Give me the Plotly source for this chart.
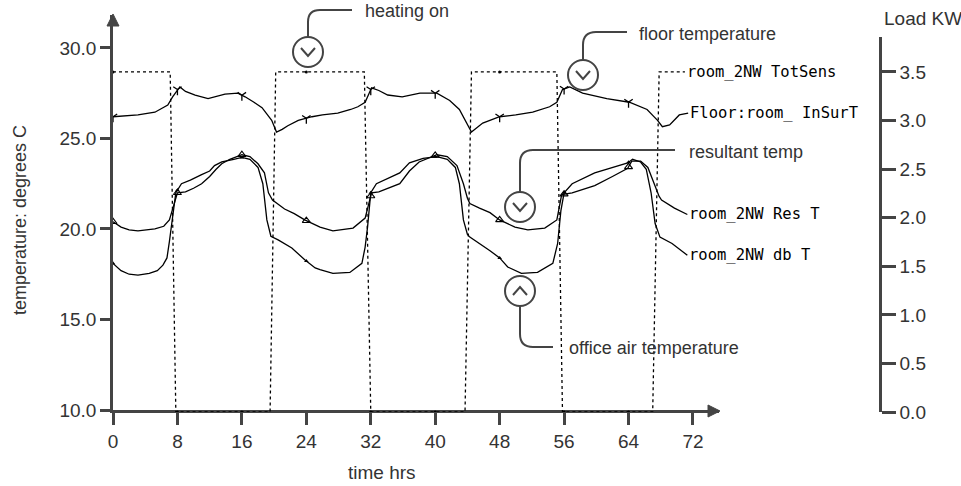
import numpy as np
import plotly.graph_objects as go

# ---------------- data ----------------
floor_h = [0, 1.5, 3.1, 5.2, 6.8, 7.4, 8.0, 8.3, 9.0, 10.2, 11.8, 13.0, 13.9, 15.5, 16.4, 17.5, 18.5,
           19.7, 20.3, 21.0, 21.7, 23.0, 24.7, 26.0, 27.9, 29.5, 30.4, 31.3, 32.1, 33.0, 34.1, 35.9,
           38.1, 40.2, 41.8, 43.0, 43.9, 44.5, 45.9, 48.0, 50.0, 52.1, 54.2, 55.1, 55.8, 56.7, 58.3,
           61.3, 64.1, 66.3, 67.6, 68.2, 69.1, 70.3, 71.4]
floor_t = [26.2, 26.25, 26.3, 26.45, 26.85, 27.3, 27.7, 27.85, 27.6, 27.4, 27.2, 27.35, 27.45, 27.5, 27.3,
           27.0, 26.7, 26.0, 25.35, 25.5, 25.7, 26.0, 26.2, 26.3, 26.4, 26.6, 26.75, 27.0, 27.8, 27.65,
           27.4, 27.3, 27.5, 27.5, 27.1, 26.6, 25.9, 25.35, 25.85, 26.2, 26.3, 26.45, 26.75, 27.0, 27.7,
           27.85, 27.5, 27.2, 27.0, 26.6, 26.0, 25.65, 25.75, 26.3, 26.4]

res_h = [0, 1, 2, 3.1, 5.2, 6.3, 7.0, 7.5, 8.0, 9.0, 10.0, 11.0, 12.0, 12.8, 13.5, 14.5, 16.0, 17.0, 18.0,
         18.8, 19.3, 19.8, 20.1, 21.3, 22.5, 23.8, 25.7, 27.3, 29.8, 31.3, 31.7, 32.1, 33.0, 35.6, 36.8,
         38.0, 40.2, 41.5, 42.7, 43.5, 44.0, 44.3, 45.5, 46.8, 48.0, 49.9, 51.5, 53.6, 55.1, 55.7, 57.0,
         59.8, 62.0, 63.9, 64.4, 65.5, 66.4, 67.2, 67.8, 68.1, 69.7, 71.3]
res_t = [20.4, 20.1, 19.95, 19.9, 20.0, 20.15, 20.5, 21.2, 22.0, 22.05, 22.25, 22.5, 22.9, 23.3, 23.6,
         23.85, 24.1, 24.0, 23.6, 23.1, 22.0, 21.6, 21.5, 21.1, 20.85, 20.5, 20.1, 19.9, 20.05, 20.6,
         21.3, 22.0, 22.05, 22.5, 23.2, 23.7, 24.1, 24.0, 23.5, 22.5, 21.7, 21.4, 21.15, 20.9, 20.5,
         20.1, 19.95, 20.05, 20.5, 21.9, 22.0, 22.4, 22.9, 23.35, 23.75, 23.75, 23.4, 22.5, 21.8, 21.6,
         21.15, 20.8]

db_h = [0, 1, 2, 3.1, 4.5, 5.5, 6.2, 6.7, 7.0, 7.4, 7.8, 8.5, 9.6, 11.0, 12.0, 12.6, 13.5, 15.0, 16.0,
        17.0, 18.0, 18.6, 19.1, 19.6, 20.5, 22.2, 23.8, 25.1, 25.7, 27.3, 29.4, 30.9, 31.3, 31.6, 32.0,
        32.7, 35.6, 36.8, 38.5, 40.2, 41.5, 42.5, 43.0, 43.5, 44.0, 44.3, 45.5, 46.8, 48.0, 49.0, 50.7,
        52.7, 54.6, 55.2, 55.6, 56.0, 57.0, 59.8, 63.9, 64.5, 65.5, 66.2, 66.8, 67.3, 67.9, 69.4, 71.3]
db_t = [18.1, 17.7, 17.5, 17.45, 17.55, 17.7, 18.0, 18.4, 19.3, 20.8, 22.0, 22.5, 22.7, 23.0, 23.2, 23.5,
        23.7, 23.85, 23.95, 23.85, 23.4, 22.5, 20.5, 19.6, 19.4, 18.95, 18.3, 17.85, 17.75, 17.55, 17.6,
        18.1, 19.0, 20.1, 22.0, 22.5, 23.1, 23.65, 23.9, 24.0, 23.85, 23.4, 22.5, 20.5, 19.7, 19.55,
        19.2, 18.8, 18.4, 17.9, 17.55, 17.6, 18.1, 19.2, 21.0, 22.0, 22.5, 23.1, 23.65, 23.85, 23.7,
        23.3, 22.0, 20.3, 19.55, 19.2, 18.55]

load_h = [0, 7.1, 7.8, 19.5, 20.2, 31.2, 32.0, 43.7, 44.5, 55.1, 55.8, 67.0, 67.8, 71.0]
load_kw = [3.5, 3.5, 0, 0, 3.5, 3.5, 0, 0, 3.5, 3.5, 0, 0, 3.5, 3.5]

x_ticks = [0, 8, 16, 24, 32, 40, 48, 56, 64, 72]
y_ticks = [10, 15, 20, 25, 30]
y2_ticks = [0, 0.5, 1.0, 1.5, 2.0, 2.5, 3.0, 3.5]
marker_hours = [0, 8, 16, 24, 32, 40, 48, 56, 64]

labels = {"load": "room_2NW TotSens", "floor": "Floor:room_ InSurT",
          "res": "room_2NW Res T", "db": "room_2NW db T"}

# ---------------- layout helpers (pixel -> paper) ----------------
W, H = 961, 486
L, R, T, B = 113, 895, 15, 412


def px(x):
    return (x - L) / (R - L)


def py(y):
    return (B - y) / (B - T)


def pt(x, y):
    return f"{px(x):.5f},{py(y):.5f}"


AX = "#444444"
TXT = "#333333"
SANS = "Liberation Sans, Arial, sans-serif"
MONO = "DejaVu Sans Mono, monospace"

fig = go.Figure()

line_style = dict(color="black", width=1.3)
fig.add_trace(go.Scatter(x=load_h, y=load_kw, mode="lines", yaxis="y2",
                         line=dict(color="black", width=1.3, dash="3px,3px")))
fig.add_trace(go.Scatter(x=floor_h, y=floor_t, mode="lines", line=line_style))
fig.add_trace(go.Scatter(x=res_h, y=res_t, mode="lines", line=line_style))
fig.add_trace(go.Scatter(x=db_h, y=db_t, mode="lines", line=line_style))

# sparse markers on the series
fig.add_trace(go.Scatter(x=marker_hours, y=np.interp(marker_hours, floor_h, floor_t), mode="markers",
                         marker=dict(symbol="y-down", size=7, color="black",
                                     line=dict(width=1.3, color="black"))))
fig.add_trace(go.Scatter(x=marker_hours, y=np.interp(marker_hours, res_h, res_t), mode="markers",
                         marker=dict(symbol="triangle-up-open", size=7, color="black",
                                     line=dict(width=1.1, color="black"))))
fig.add_trace(go.Scatter(x=marker_hours, y=np.interp(marker_hours, db_h, db_t), mode="markers",
                         marker=dict(symbol="triangle-up", size=4, color="black")))
fig.add_trace(go.Scatter(x=marker_hours, y=np.interp(marker_hours, load_h, load_kw), mode="markers",
                         yaxis="y2", marker=dict(symbol="circle", size=3, color="black")))

shapes = []
# axis arrowheads
shapes.append(dict(type="path", xref="paper", yref="paper",
                   path=f"M {pt(113, 14)} L {pt(107, 26)} L {pt(119, 26)} Z",
                   fillcolor=AX, line=dict(color=AX, width=1)))
shapes.append(dict(type="path", xref="paper", yref="paper",
                   path=f"M {pt(720, 411)} L {pt(708, 405)} L {pt(708, 417)} Z",
                   fillcolor=AX, line=dict(color=AX, width=1)))


def callout(cx, cy, up, leader):
    r = 15
    shapes.append(dict(type="circle", xref="paper", yref="paper",
                       x0=px(cx - r), x1=px(cx + r), y0=py(cy + r), y1=py(cy - r),
                       line=dict(color=AX, width=2)))
    s = 1 if up else -1
    shapes.append(dict(type="path", xref="paper", yref="paper",
                       path=f"M {pt(cx - 7, cy + 4 * s)} L {pt(cx, cy - 4 * s)} L {pt(cx + 7, cy + 4 * s)}",
                       line=dict(color=AX, width=2)))
    shapes.append(dict(type="path", xref="paper", yref="paper", path=leader,
                       line=dict(color=AX, width=2)))


callout(308, 52, False, f"M {pt(308, 37)} L {pt(308, 22)} Q {pt(308, 10)} {pt(320, 10)} L {pt(352, 10)}")
callout(583, 75, False, f"M {pt(583, 60)} L {pt(583, 45)} Q {pt(583, 32)} {pt(596, 32)} L {pt(627, 32)}")
callout(520, 207, False, f"M {pt(520, 192)} L {pt(520, 163)} Q {pt(520, 150)} {pt(533, 150)} L {pt(675, 150)}")
callout(520, 291, True, f"M {pt(520, 306)} L {pt(520, 334)} Q {pt(520, 347)} {pt(533, 347)} L {pt(553, 347)}")

ann = []


def text(x, y, s, size=18, anchor="left", angle=0, font=SANS, color=TXT):
    ann.append(dict(xref="paper", yref="paper", x=px(x), y=py(y), text=s, showarrow=False,
                    xanchor=anchor, yanchor="middle", textangle=angle,
                    font=dict(family=font, size=size, color=color)))


text(363, 11, "heating on")
text(637, 34, "floor temperature")
text(687, 152, "resultant temp")
text(567, 348, "office air temperature")
text(20, 220, "temperature: degrees C", angle=-90, anchor="center")
text(382, 472, "time hrs", size=19, anchor="center")
text(882, 18, "Load KW", size=19)

# curve end labels
for key, hx, hy, yr in [("load", load_h, load_kw, "y2"), ("floor", floor_h, floor_t, "y"),
                        ("res", res_h, res_t, "y"), ("db", db_h, db_t, "y")]:
    ann.append(dict(xref="x", yref=yr, x=hx[-1], y=hy[-1], text=labels[key], showarrow=False,
                    xanchor="left", yanchor="middle", xshift=0,
                    font=dict(family=MONO, size=15.5, color="black")))

axis_common = dict(showgrid=False, zeroline=False, showline=True, linecolor=AX, linewidth=2.5,
                   ticks="outside", tickcolor=AX, tickwidth=2.5,
                   tickfont=dict(family=SANS, size=19, color=TXT))

fig.update_layout(
    width=W, height=H,
    margin=dict(l=L, r=W - R, t=T, b=H - B, pad=0),
    paper_bgcolor="white", plot_bgcolor="rgba(0,0,0,0)",
    showlegend=False,
    xaxis=dict(domain=[0, px(719)], range=[0, 75.23], tickvals=x_ticks, ticklen=12, **axis_common),
    yaxis=dict(domain=[py(410), 1], range=[10, 31.82], tickvals=y_ticks, tickformat=".1f", ticklen=10,
               **axis_common),
    yaxis2=dict(domain=[0, py(37)], range=[0, 3.86], tickvals=y2_ticks, tickformat=".1f",
                anchor="free", position=px(880), side="right", ticklen=14, **axis_common),
    shapes=shapes,
    annotations=ann,
)

fig.write_html("out.html")
